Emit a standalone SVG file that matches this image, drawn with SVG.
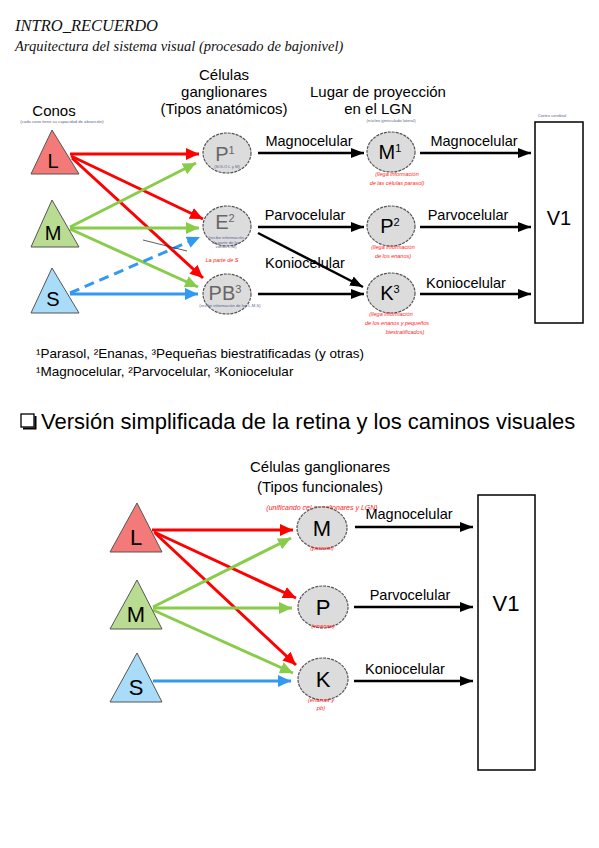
<svg xmlns="http://www.w3.org/2000/svg" width="599" height="848" viewBox="0 0 599 848">
<defs>
<style>
.t{font-family:"Liberation Sans",Arial,sans-serif;fill:#000}
.hw{font-family:"Liberation Serif",serif;font-style:italic;fill:#111}
.red{font-family:"Liberation Sans",sans-serif;fill:#ff2020;font-size:5.5px;font-style:italic}
.tiny{font-family:"Liberation Sans",sans-serif;fill:#5a6690;font-size:4.2px}
.cell{fill:#dcdcdc;stroke:#555;stroke-width:1.2;stroke-dasharray:3 1}
.ar{fill:none;stroke:#ff0000;stroke-width:3}
.ag{fill:none;stroke:#88cc4a;stroke-width:3}
.ab{fill:none;stroke:#3399f0;stroke-width:3}
.ak{fill:none;stroke:#000;stroke-width:2.5}
</style>
<marker id="mr" markerUnits="userSpaceOnUse" markerWidth="14" markerHeight="12" refX="13" refY="6" orient="auto"><path d="M0,0 L13,6 L0,12 z" fill="#ff0000"/></marker>
<marker id="mg" markerUnits="userSpaceOnUse" markerWidth="14" markerHeight="12" refX="13" refY="6" orient="auto"><path d="M0,0 L13,6 L0,12 z" fill="#88cc4a"/></marker>
<marker id="mb" markerUnits="userSpaceOnUse" markerWidth="14" markerHeight="12" refX="13" refY="6" orient="auto"><path d="M0,0 L13,6 L0,12 z" fill="#3399f0"/></marker>
<marker id="mk" markerUnits="userSpaceOnUse" markerWidth="14" markerHeight="12" refX="13" refY="6" orient="auto"><path d="M0,1 L13,6 L0,11 z" fill="#000"/></marker>
</defs>
<rect width="599" height="848" fill="#fff"/>

<g id="title">
<text class="hw" x="15" y="31" font-size="16.5">INTRO_RECUERDO</text>
<text class="hw" x="15" y="51" font-size="14.5">Arquitectura del sistema visual (procesado de bajonivel)</text>
</g>

<!-- ===== Top diagram ===== -->
<g id="top-headers" class="t">
<text x="54" y="116" font-size="15" text-anchor="middle">Conos</text>
<text class="tiny" x="62" y="123" text-anchor="middle">(cada cono tiene su capacidad de absorción)</text>
<text x="224" y="80" font-size="15" text-anchor="middle">Células</text>
<text x="224" y="97" font-size="15" text-anchor="middle">ganglionares</text>
<text x="224" y="114" font-size="15" text-anchor="middle">(Tipos anatómicos)</text>
<text x="378" y="97" font-size="15" text-anchor="middle">Lugar de proyección</text>
<text x="378" y="114" font-size="15" text-anchor="middle">en el LGN</text>
<text class="tiny" x="391" y="122" text-anchor="middle">(núcleo geniculado lateral)</text>
<text class="tiny" x="552" y="117" text-anchor="middle">Cortex cerebral</text>
</g>

<g id="connectors-top">
<line class="ar" x1="70" y1="154" x2="199" y2="154" marker-end="url(#mr)"/>
<line class="ar" x1="71" y1="156" x2="203" y2="219" marker-end="url(#mr)"/>
<line class="ar" x1="72" y1="158" x2="203" y2="278" marker-end="url(#mr)"/>
<line class="ag" x1="70" y1="227" x2="196" y2="163" marker-end="url(#mg)"/>
<line class="ag" x1="70" y1="228" x2="199" y2="228" marker-end="url(#mg)"/>
<line class="ag" x1="70" y1="229" x2="198" y2="287" marker-end="url(#mg)"/>
<line class="ab" x1="70" y1="293" x2="200" y2="237" stroke-dasharray="10 6" marker-end="url(#mb)"/>
<line class="ab" x1="70" y1="294" x2="198" y2="294" marker-end="url(#mb)"/>
<line x1="143" y1="240" x2="187" y2="251" stroke="#333" stroke-width="0.8"/>
<line class="ak" x1="258" y1="153" x2="364" y2="153" marker-end="url(#mk)"/>
<line class="ak" x1="258" y1="227" x2="364" y2="227" marker-end="url(#mk)"/>
<line class="ak" x1="258" y1="233" x2="363" y2="287" marker-end="url(#mk)"/>
<line class="ak" x1="258" y1="294" x2="364" y2="294" marker-end="url(#mk)"/>
<line class="ak" x1="420" y1="153" x2="531" y2="153" marker-end="url(#mk)"/>
<line class="ak" x1="420" y1="227" x2="531" y2="227" marker-end="url(#mk)"/>
<line class="ak" x1="420" y1="294" x2="531" y2="294" marker-end="url(#mk)"/>
</g>

<g id="top-labels" class="t" font-size="14.5">
<text x="309" y="146" text-anchor="middle">Magnocelular</text>
<text x="305" y="220" text-anchor="middle">Parvocelular</text>
<text x="305" y="268" text-anchor="middle">Koniocelular</text>
<text x="474" y="146" text-anchor="middle">Magnocelular</text>
<text x="468" y="220" text-anchor="middle">Parvocelular</text>
<text x="466" y="288" text-anchor="middle">Koniocelular</text>
</g>

<g id="cone-L-top">
<polygon points="52,130 31,174 79,174" fill="#f47a7a" stroke="#555" stroke-width="1"/>
<text class="t" x="53" y="168" font-size="20" text-anchor="middle">L</text>
</g>
<g id="cone-M-top">
<polygon points="52,200 31,247 79,247" fill="#b9dc92" stroke="#555" stroke-width="1"/>
<text class="t" x="53" y="240" font-size="20" text-anchor="middle">M</text>
</g>
<g id="cone-S-top">
<polygon points="52,268 31,313 79,313" fill="#a9dcf8" stroke="#555" stroke-width="1"/>
<text class="t" x="53" y="306" font-size="20" text-anchor="middle">S</text>
</g>

<g id="cell-P1">
<ellipse class="cell" cx="227" cy="153" rx="24" ry="20"/>
<text class="t" x="225" y="161" font-size="20" style="fill:#666" text-anchor="middle">P<tspan font-size="11" dy="-7">1</tspan></text>
<text class="tiny" x="227" y="168" text-anchor="middle">(SOLO L y M)</text>
</g>
<g id="cell-E2">
<ellipse class="cell" cx="227" cy="226" rx="24" ry="20"/>
<text class="t" x="225" y="229" font-size="20" style="fill:#666" text-anchor="middle">E<tspan font-size="11" dy="-7">2</tspan></text>
<text class="tiny" x="226" y="239" text-anchor="middle">(recibe información</text>
<text class="tiny" x="226" y="243.5" text-anchor="middle">de parte de los</text>
<text class="tiny" x="226" y="248" text-anchor="middle">conos L,M)</text>
<text class="red" x="222" y="262" text-anchor="middle">La parte de S</text>
</g>
<g id="cell-PB3">
<ellipse class="cell" cx="227" cy="294" rx="24" ry="20"/>
<text class="t" x="225" y="300" font-size="20" style="fill:#666" text-anchor="middle">PB<tspan font-size="11" dy="-7">3</tspan></text>
<text class="tiny" x="230" y="307" text-anchor="middle">(recibe información de los L,M,S)</text>
</g>

<g id="lgn-M1">
<ellipse class="cell" cx="391" cy="152" rx="24" ry="20"/>
<text class="t" x="390" y="159" font-size="20" text-anchor="middle">M<tspan font-size="11" dy="-7">1</tspan></text>
<text class="red" x="397" y="176" text-anchor="middle">(llega información</text>
<text class="red" x="397" y="185" text-anchor="middle">de las células parasol)</text>
</g>
<g id="lgn-P2">
<ellipse class="cell" cx="391" cy="226" rx="24" ry="20"/>
<text class="t" x="390" y="233" font-size="20" text-anchor="middle">P<tspan font-size="11" dy="-7">2</tspan></text>
<text class="red" x="393" y="249" text-anchor="middle">(llega información</text>
<text class="red" x="393" y="258" text-anchor="middle">de los enanos)</text>
</g>
<g id="lgn-K3">
<ellipse class="cell" cx="391" cy="293" rx="24" ry="20"/>
<text class="t" x="390" y="300" font-size="20" text-anchor="middle">K<tspan font-size="11" dy="-7">3</tspan></text>
<text class="red" x="391" y="316" text-anchor="middle">(llega información</text>
<text class="red" x="397" y="325" text-anchor="middle">de los enanos y pequeños</text>
<text class="red" x="405" y="334" text-anchor="middle">biestratificados)</text>
</g>

<g id="V1-top">
<rect x="535" y="122" width="48" height="201" fill="#fff" stroke="#000" stroke-width="1.5"/>
<text class="t" x="559" y="225" font-size="20" text-anchor="middle">V1</text>
</g>

<g id="footnotes" class="t" font-size="13.5">
<text x="36" y="358">¹Parasol, ²Enanas, ³Pequeñas biestratificadas (y otras)</text>
<text x="36" y="376">¹Magnocelular, ²Parvocelular, ³Koniocelular</text>
</g>

<g id="section-heading">
<rect x="21" y="414" width="13" height="13" fill="#fff" stroke="#000" stroke-width="1.3"/>
<path d="M23,428.5 H35.5 V416" fill="none" stroke="#000" stroke-width="2"/>
<text class="t" x="41" y="429" font-size="22">Versión simplificada de la retina y los caminos visuales</text>
</g>

<!-- ===== Bottom diagram ===== -->
<g id="bottom-headers" class="t">
<text x="320" y="472" font-size="15" text-anchor="middle">Células ganglionares</text>
<text x="320" y="492" font-size="15" text-anchor="middle">(Tipos funcionales)</text>
<text class="red" x="322" y="510" style="font-size:7px" text-anchor="middle">(unificando cel ganglionares y LGN)</text>
</g>

<g id="connectors-bottom">
<line class="ar" x1="152" y1="530" x2="293" y2="530" marker-end="url(#mr)"/>
<line class="ar" x1="154" y1="532" x2="296" y2="598" marker-end="url(#mr)"/>
<line class="ar" x1="155" y1="533" x2="296" y2="665" marker-end="url(#mr)"/>
<line class="ag" x1="153" y1="607" x2="291" y2="538" marker-end="url(#mg)"/>
<line class="ag" x1="153" y1="608" x2="292" y2="608" marker-end="url(#mg)"/>
<line class="ag" x1="153" y1="610" x2="293" y2="673" marker-end="url(#mg)"/>
<line class="ab" x1="153" y1="681" x2="291" y2="681" marker-end="url(#mb)"/>
<line class="ak" x1="355" y1="527" x2="473" y2="527" marker-end="url(#mk)"/>
<line class="ak" x1="354" y1="607" x2="473" y2="607" marker-end="url(#mk)"/>
<line class="ak" x1="354" y1="681" x2="473" y2="681" marker-end="url(#mk)"/>
</g>

<g id="bottom-labels" class="t" font-size="14.5">
<text x="409" y="519" text-anchor="middle">Magnocelular</text>
<text x="410" y="600" text-anchor="middle">Parvocelular</text>
<text x="405" y="674" text-anchor="middle">Koniocelular</text>
</g>

<g id="cone-L-bottom">
<polygon points="137,503 110,552 162,552" fill="#f47a7a" stroke="#555" stroke-width="1"/>
<text class="t" x="136" y="545" font-size="22" text-anchor="middle">L</text>
</g>
<g id="cone-M-bottom">
<polygon points="137,580 110,629 162,629" fill="#b9dc92" stroke="#555" stroke-width="1"/>
<text class="t" x="136" y="622" font-size="22" text-anchor="middle">M</text>
</g>
<g id="cone-S-bottom">
<polygon points="137,653 110,702 162,702" fill="#a9dcf8" stroke="#555" stroke-width="1"/>
<text class="t" x="136" y="695" font-size="22" text-anchor="middle">S</text>
</g>

<g id="cell-M">
<ellipse class="cell" cx="322" cy="528" rx="25" ry="21"/>
<text class="t" x="322" y="536" font-size="22" text-anchor="middle">M</text>
<text class="red" x="322" y="550" style="font-size:6px" text-anchor="middle">(parasol)</text>
</g>
<g id="cell-P">
<ellipse class="cell" cx="323" cy="607" rx="25" ry="21"/>
<text class="t" x="323" y="615" font-size="22" text-anchor="middle">P</text>
<text class="red" x="323" y="628" style="font-size:6px" text-anchor="middle">(enanas)</text>
</g>
<g id="cell-K">
<ellipse class="cell" cx="323" cy="679" rx="25" ry="21"/>
<text class="t" x="323" y="687" font-size="22" text-anchor="middle">K</text>
<text class="red" x="321" y="702" style="font-size:6px" text-anchor="middle">(enanas y</text>
<text class="red" x="321" y="710" style="font-size:6px" text-anchor="middle">pb)</text>
</g>

<g id="V1-bottom">
<rect x="478" y="495" width="57" height="275" fill="#fff" stroke="#000" stroke-width="1.5"/>
<text class="t" x="506" y="611" font-size="22" text-anchor="middle">V1</text>
</g>
</svg>
